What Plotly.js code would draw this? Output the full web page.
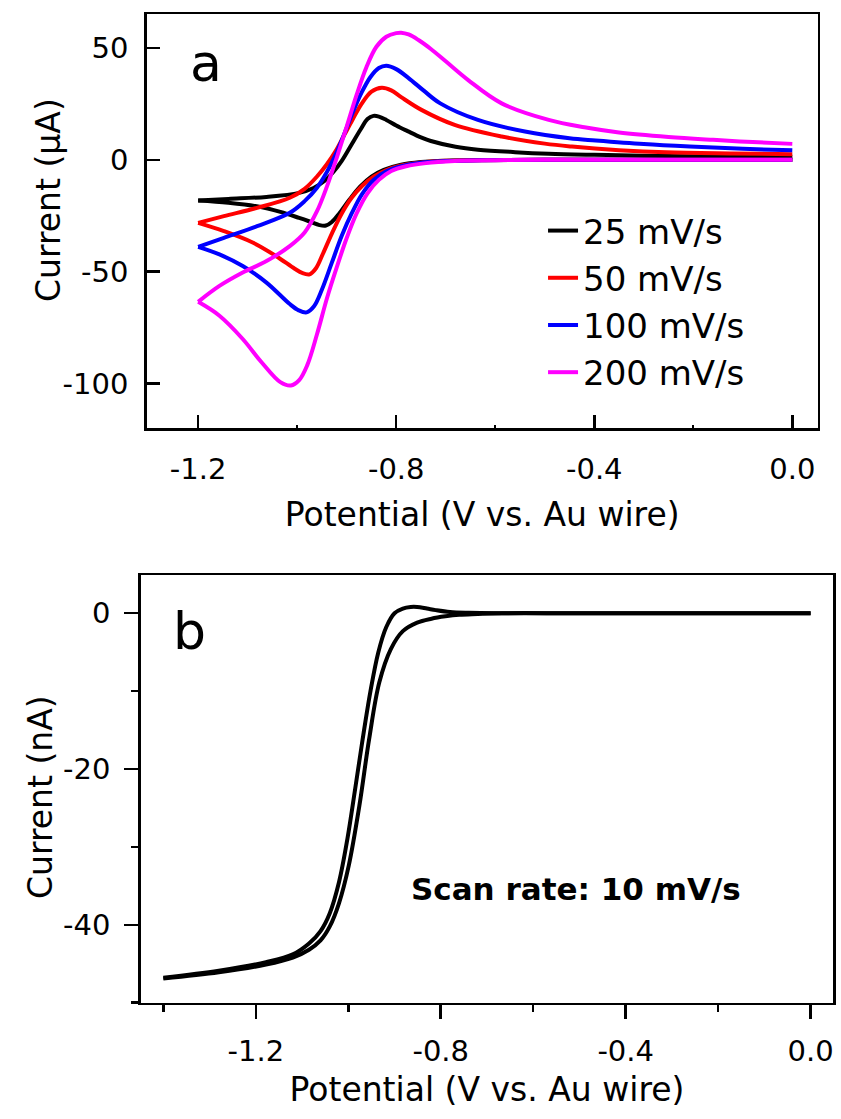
<!DOCTYPE html>
<html><head><meta charset="utf-8">
<script src="https://cdn.plot.ly/plotly-3.0.1.min.js"></script>
<style>html,body{margin:0;padding:0;background:#fff}</style>
</head><body><div id="chart" style="width:841px;height:1119px"></div>
<script>
// ---------- Panel a: cyclic voltammograms (potential in V vs. Au wire, current in µA) ----------
const scanRates = ['25 mV/s', '50 mV/s', '100 mV/s', '200 mV/s'];
const colors = ['#000000', '#ff0000', '#0000ff', '#ff00ff'];

// cathodic sweep (0 -> -1.2 V)
const potFwd25 = [0, -0.3, -0.5, -0.62, -0.7, -0.75, -0.79, -0.825, -0.85, -0.873, -0.895, -0.915, -0.93, -0.942, -0.955, -0.975, -0.996, -1.034, -1.082, -1.139, -1.2];
const curFwd25 = [0, 0, 0, -0.1, -0.4, -1, -2.2, -4.5, -7.5, -12, -18, -24, -27.8, -29.4, -29.2, -27.6, -26, -23.3, -20.8, -19.2, -18.2];
// anodic sweep (-1.2 -> 0 V)
const potRev25 = [-1.2, -1.139, -1.062, -0.996, -0.967, -0.945, -0.927, -0.91, -0.891, -0.872, -0.858, -0.846, -0.835, -0.82, -0.8, -0.777, -0.75, -0.73, -0.68, -0.635, -0.56, -0.492, -0.4, -0.302, -0.15, 0];
const curRev25 = [-18.2, -17.5, -16.6, -14.8, -12.6, -9.5, -5.5, -0.5, 6.5, 13.5, 18.2, 19.6, 19.3, 17.8, 15.3, 12.8, 10, 8.4, 5.8, 4.5, 3.4, 2.7, 2.2, 1.8, 1.5, 1.3];

const potFwd50 = [0, -0.3, -0.5, -0.62, -0.7, -0.75, -0.79, -0.82, -0.845, -0.868, -0.89, -0.91, -0.93, -0.948, -0.962, -0.975, -0.99, -1.005, -1.043, -1.09, -1.148, -1.2];
const curFwd50 = [0, 0, 0, -0.2, -0.5, -1.2, -2.6, -4.6, -7.5, -11.5, -17, -24, -33, -42, -48.5, -51.2, -50.6, -48.7, -43, -37, -31.9, -28.2];
const potRev50 = [-1.2, -1.148, -1.081, -1.015, -0.985, -0.96, -0.94, -0.922, -0.905, -0.888, -0.87, -0.85, -0.829, -0.81, -0.79, -0.749, -0.682, -0.587, -0.5, -0.445, -0.35, -0.255, -0.12, 0];
const curRev50 = [-28.2, -25.2, -21.5, -17, -13, -7.5, -2, 4, 11, 18, 25, 30.5, 32.2, 31, 28, 22.3, 15.6, 10.4, 7.2, 5.9, 4.3, 3.3, 2.8, 2.5];

const potFwd100 = [0, -0.3, -0.5, -0.62, -0.7, -0.75, -0.79, -0.82, -0.845, -0.868, -0.89, -0.91, -0.93, -0.95, -0.966, -0.981, -0.997, -1.015, -1.062, -1.11, -1.157, -1.2];
const curFwd100 = [0, 0, 0, -0.2, -0.6, -1.3, -2.9, -5.2, -8.9, -15, -24, -34, -46, -58, -65.5, -68.2, -67.3, -64.5, -54.9, -47.5, -42.3, -38.9];
const potRev100 = [-1.2, -1.148, -1.081, -1.015, -0.985, -0.96, -0.94, -0.922, -0.905, -0.888, -0.87, -0.852, -0.835, -0.82, -0.8, -0.775, -0.745, -0.711, -0.635, -0.54, -0.45, -0.397, -0.3, -0.207, -0.1, 0];
const curRev100 = [-38.9, -34.9, -29.7, -23.7, -18.5, -12.5, -5.5, 2.5, 11.5, 21, 30, 37, 41, 42, 40.5, 36.5, 31, 25.2, 17.8, 12.6, 9.6, 8.6, 7, 5.9, 4.9, 4.2];

const potFwd200 = [0, -0.3, -0.5, -0.6, -0.682, -0.74, -0.78, -0.81, -0.835, -0.858, -0.88, -0.9, -0.92, -0.94, -0.96, -0.98, -0.996, -1.013, -1.034, -1.072, -1.11, -1.157, -1.2];
const curFwd200 = [0, 0, 0, -0.2, -0.6, -1.5, -2.9, -5, -9, -15, -24, -35, -48, -62, -78, -92, -98.5, -100.9, -99.4, -90.5, -80.1, -69.7, -63.5];
const potRev200 = [-1.2, -1.157, -1.11, -1.062, -1.015, -0.985, -0.96, -0.94, -0.92, -0.9, -0.88, -0.86, -0.84, -0.82, -0.8, -0.79, -0.775, -0.755, -0.73, -0.7, -0.654, -0.587, -0.492, -0.42, -0.35, -0.25, -0.16, -0.08, 0];
const curRev200 = [-63.5, -56.4, -50.4, -45.3, -38.6, -32.5, -23, -12, 1, 14.8, 29, 41.5, 50.5, 55, 56.6, 56.8, 56, 53.5, 49.5, 44, 35.5, 25.2, 17.8, 14.5, 12.2, 10.2, 8.9, 7.9, 7.1];

// ---------- Panel b: CV at 10 mV/s (current in nA) ----------
const potFwdB = [0, -0.5, -0.668, -0.72, -0.76, -0.79, -0.82, -0.851, -0.882, -0.908, -0.933, -0.955, -0.976, -0.999, -1.02, -1.04, -1.06, -1.085, -1.12, -1.178, -1.28, -1.4];
const curFwdB = [0, 0, 0, -0.1, -0.2, -0.4, -0.7, -1.2, -2.3, -4.6, -8.9, -16.2, -24.7, -32.4, -37.2, -40.2, -42, -43.2, -44.2, -45.1, -46.1, -46.9];
const potRevB = [-1.4, -1.28, -1.178, -1.12, -1.085, -1.06, -1.04, -1.02, -1.002, -0.985, -0.969, -0.952, -0.935, -0.918, -0.9, -0.882, -0.865, -0.851, -0.83, -0.811, -0.78, -0.74, -0.668, -0.5, 0];
const curRevB = [-46.8, -45.9, -44.8, -43.8, -42.4, -40.8, -38.5, -34.5, -29, -22.5, -16.2, -10, -5, -1.8, 0, 0.6, 0.8, 0.8, 0.6, 0.4, 0.15, 0.05, 0, 0, 0];

// ---------- tick labels ----------
const xTickVals = [-1.2, -0.8, -0.4, 0];
const xTickText = ['-1.2', '-0.8', '-0.4', '0.0'];
const yTickValsA = [-100, -50, 0, 50];
const yTickTextA = ['-100', '-50', '0', '50'];
const yTickValsB = [-40, -20, 0];
const yTickTextB = ['-40', '-20', '0'];

const xTitle = 'Potential (V vs. Au wire)';
const yTitleA = 'Current (\u03bcA)';
const yTitleB = 'Current (nA)';
const panelLabels = ['a', 'b'];
const scanNote = 'Scan rate: 10 mV/s';

const FONT = 'DejaVu Sans';
const LW = 4;

const sweepsA = [
  [potFwd25, curFwd25, potRev25, curRev25],
  [potFwd50, curFwd50, potRev50, curRev50],
  [potFwd100, curFwd100, potRev100, curRev100],
  [potFwd200, curFwd200, potRev200, curRev200]
];

const lineStyle = (c) => ({color: c, width: LW, shape: 'spline', smoothing: 1});
const traces = [];
sweepsA.forEach((s, k) => {
  traces.push({x: s[0], y: s[1], type: 'scatter', mode: 'lines', name: scanRates[k],
    line: lineStyle(colors[k]), xaxis: 'x', yaxis: 'y', showlegend: true});
  traces.push({x: s[2], y: s[3], type: 'scatter', mode: 'lines', name: scanRates[k],
    line: lineStyle(colors[k]), xaxis: 'x', yaxis: 'y', showlegend: false});
});
traces.push({x: potFwdB, y: curFwdB, type: 'scatter', mode: 'lines', line: lineStyle('#000'), xaxis: 'x2', yaxis: 'y2', showlegend: false});
traces.push({x: potRevB, y: curRevB, type: 'scatter', mode: 'lines', line: lineStyle('#000'), xaxis: 'x2', yaxis: 'y2', showlegend: false});

const tickFont = {family: FONT, size: 29, color: '#000'};
const titleFont = {family: FONT, size: 33, color: '#000'};
const base = {showline: true, linecolor: '#000', linewidth: 2.5, mirror: true, showgrid: false, zeroline: false,
  tickcolor: '#000', tickwidth: 2.5, tickfont: tickFont, tickmode: 'array'};

const layout = {
  width: 841, height: 1119, margin: {l: 0, r: 0, t: 0, b: 0},
  paper_bgcolor: '#fff', plot_bgcolor: '#fff',
  xaxis: Object.assign({}, base, {domain: [0.1744, 0.9723], range: [-1.304, 0.0513], anchor: 'y',
    tickvals: xTickVals, ticktext: xTickText, ticks: 'inside', ticklen: 13, ticklabelstandoff: 13,
    minor: {tickmode: 'linear', tick0: 0, dtick: 0.2, ticks: 'inside', ticklen: 3, tickwidth: 2, tickcolor: '#000'},
    title: {text: xTitle, font: titleFont, standoff: 19}}),
  yaxis: Object.assign({}, base, {domain: [0.6173, 0.9872], range: [-120, 65], anchor: 'x',
    tickvals: yTickValsA, ticktext: yTickTextA, ticks: 'inside', ticklen: 13, ticklabelstandoff: 10}),
  xaxis2: Object.assign({}, base, {domain: [0.1673, 0.9908], range: [-1.449, 0.049], anchor: 'y2',
    tickvals: xTickVals, ticktext: xTickText, ticks: 'outside', ticklen: 14, ticklabelstandoff: 7,
    minor: {tickmode: 'linear', tick0: 0, dtick: 0.2, ticks: 'outside', ticklen: 7, tickwidth: 2.5, tickcolor: '#000'},
    title: {text: xTitle, font: titleFont, standoff: 11}}),
  yaxis2: Object.assign({}, base, {domain: [0.1039, 0.4861], range: [-50, 4.9], anchor: 'x2',
    tickvals: yTickValsB, ticktext: yTickTextB, ticks: 'outside', ticklen: 14, ticklabelstandoff: 8,
    minor: {tickmode: 'linear', tick0: 0, dtick: 10, ticks: 'outside', ticklen: 7, tickwidth: 2.5, tickcolor: '#000'}}),
  legend: {x: 0.6457, xanchor: 'left', y: 0.8195, yanchor: 'top', bgcolor: 'rgba(0,0,0,0)',
    font: {family: FONT, size: 34, color: '#000'}, tracegroupgap: 0, itemwidth: 30},
  annotations: [
    {text: yTitleA, xref: 'paper', yref: 'paper', x: 49 / 841, y: 1 - 200 / 1119, xanchor: 'center', yanchor: 'middle',
      textangle: -90, showarrow: false, font: titleFont},
    {text: yTitleB, xref: 'paper', yref: 'paper', x: 40 / 841, y: 1 - 797 / 1119, xanchor: 'center', yanchor: 'middle',
      textangle: -90, showarrow: false, font: titleFont},
    {text: panelLabels[0], xref: 'paper', yref: 'paper', x: 188 / 841, y: 1 - 63 / 1119, xanchor: 'left', yanchor: 'middle',
      showarrow: false, font: {family: FONT, size: 52, color: '#000'}},
    {text: panelLabels[1], xref: 'paper', yref: 'paper', x: 171 / 841, y: 1 - 631 / 1119, xanchor: 'left', yanchor: 'middle',
      showarrow: false, font: {family: FONT, size: 52, color: '#000'}},
    {text: scanNote, xref: 'paper', yref: 'paper', x: 576 / 841, y: 1 - 889 / 1119, xanchor: 'center', yanchor: 'middle',
      showarrow: false, font: {family: FONT, size: 31, color: '#000', weight: 'bold'}}
  ]
};

Plotly.newPlot('chart', traces, layout, {displayModeBar: false, staticPlot: true});
</script></body></html>
